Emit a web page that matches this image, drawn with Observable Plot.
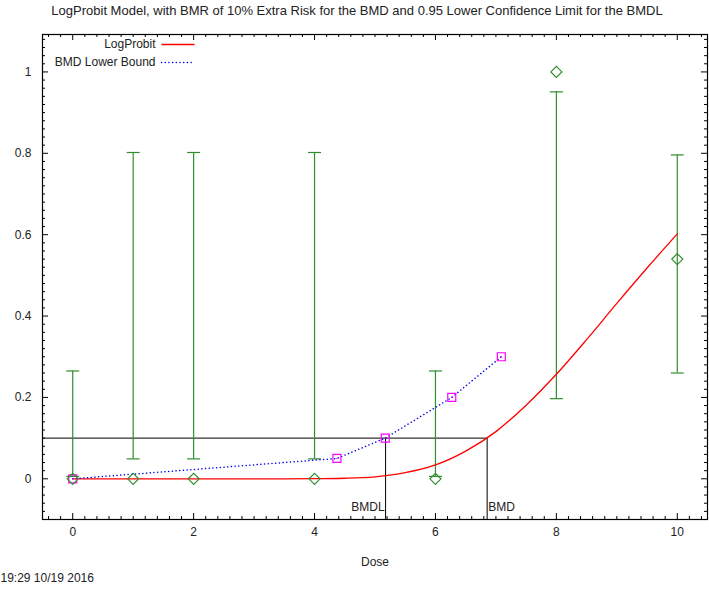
<!DOCTYPE html>
<html>
<head>
<meta charset="utf-8">
<script src="https://cdn.jsdelivr.net/npm/d3@7"></script>
<script src="https://cdn.jsdelivr.net/npm/@observablehq/plot@0.6"></script>
<style>
  html, body { margin: 0; padding: 0; background: #fff; }
  #chart svg { display: block; }
</style>
</head>
<body>
<div id="chart"></div>
<script>
// ---- Data ----
const doses = [0, 1, 2, 4, 6, 8, 10];
const observed = [0, 0, 0, 0, 0, 1, 0.54];
const lowerCI = [0.006, 0.049, 0.049, 0.049, 0.006, 0.197, 0.26];
const upperCI = [0.265, 0.802, 0.802, 0.802, 0.265, 0.951, 0.796];

const fitDose = [0, 1, 2, 3, 4, 4.5, 5, 5.5, 6, 6.5, 7, 7.5, 8, 8.5, 9, 9.5, 10];
const fitProb = [0, 0, 0, 0, 0.0003, 0.0014, 0.005, 0.015, 0.034, 0.068, 0.116, 0.181, 0.257, 0.342, 0.431, 0.518, 0.602];

const bmdlDose = [0, 4.37, 5.17, 6.27, 7.09];
const bmdlRisk = [0, 0.05, 0.1, 0.2, 0.3];

const bmr = 0.1;
const bmd = 6.855;
const bmdl = 5.175;

const xTicks = [0, 2, 4, 6, 8, 10];
const yTicks = [0, 0.2, 0.4, 0.6, 0.8, 1];
const xDomain = [-0.5, 10.5];
const yDomain = [-0.1, 1.092];

const titleText = "LogProbit Model, with BMR of 10% Extra Risk for the BMD and 0.95 Lower Confidence Limit for the BMDL";
const xLabel = "Dose";
const stamp = "19:29 10/19 2016";
const legendNames = ["LogProbit", "BMD Lower Bound"];

// ---- Build tables ----
const obs = doses.map((d, i) => ({dose: d, p: observed[i], lo: lowerCI[i], hi: upperCI[i]}));
const fit = fitDose.map((d, i) => ({dose: d, p: fitProb[i]}));
const lb = bmdlDose.map((d, i) => ({dose: d, p: bmdlRisk[i]}));

const xMinor = d3.range(-0.4, 10.5, 0.2).map(v => +v.toFixed(2)).filter(v => Math.abs(v / 2 - Math.round(v / 2)) > 1e-6);
const yMinor = d3.range(-0.08, 1.09, 0.02).map(v => +v.toFixed(2)).filter(v => Math.abs(v / 0.2 - Math.round(v / 0.2)) > 1e-6);

// ---- Layout ----
const W = 709, H = 590, mT = 34, mB = 71, mL = 42, mR = 2;
const FW = W - mL - mR, FH = H - mT - mB;

// ---- Custom symbols ----
const hbar = (w) => ({draw(ctx) { ctx.moveTo(-w, 0); ctx.lineTo(w, 0); }});
const diamond = (r) => ({draw(ctx) { ctx.moveTo(0, -r); ctx.lineTo(r, 0); ctx.lineTo(0, r); ctx.lineTo(-r, 0); ctx.closePath(); }});
const square = (r) => ({draw(ctx) { ctx.moveTo(-r, -r); ctx.lineTo(r, -r); ctx.lineTo(r, r); ctx.lineTo(-r, r); ctx.closePath(); }});

const GREEN = "#2f8f2f";
const RED = "#ff0000";
const BLUE = "#0000ee";
const MAGENTA = "#ff00ff";

const xTickMarks = (vals, len) => [
  Plot.tickX(vals, {x: d => d, insetTop: FH - len, stroke: "black", strokeWidth: 1}),
  Plot.tickX(vals, {x: d => d, insetBottom: FH - len, stroke: "black", strokeWidth: 1})
];
const yTickMarks = (vals, len) => [
  Plot.tickY(vals, {y: d => d, insetRight: FW - len, stroke: "black", strokeWidth: 1}),
  Plot.tickY(vals, {y: d => d, insetLeft: FW - len, stroke: "black", strokeWidth: 1})
];

const chart = Plot.plot({
  width: W,
  height: H,
  marginTop: mT,
  marginBottom: mB,
  marginLeft: mL,
  marginRight: mR,
  style: {fontFamily: "'Liberation Sans', Arial, sans-serif", fontSize: "12px", color: "#222", background: "#fff"},
  x: {domain: xDomain, axis: null},
  y: {domain: yDomain, axis: null},
  marks: [
    // axis labels (library axes, labels only)
    Plot.axisX({ticks: xTicks, tickSize: 0, tickPadding: 8, label: null, fontSize: 12, tickFormat: d => String(d)}),
    Plot.axisY({ticks: yTicks, tickSize: 0, tickPadding: 11, label: null, fontSize: 12, tickFormat: d => String(d)}),
    ...xTickMarks(xTicks, 6),
    ...xTickMarks(xMinor, 3),
    ...yTickMarks(yTicks, 6),
    ...yTickMarks(yMinor, 3),

    // BMR / BMD / BMDL guide lines
    Plot.ruleY([bmr], {x1: xDomain[0], x2: bmd, stroke: "black", strokeWidth: 1}),
    Plot.ruleX([bmdl, bmd], {y1: yDomain[0], y2: bmr, stroke: "black", strokeWidth: 1}),
    Plot.text(["BMDL"], {x: bmdl, y: yDomain[0], dy: -12, dx: -1, textAnchor: "end", fontSize: 12, fill: "#222"}),
    Plot.text(["BMD"], {x: bmd, y: yDomain[0], dy: -12, dx: 1, textAnchor: "start", fontSize: 12, fill: "#222"}),

    // error bars
    Plot.ruleX(obs, {x: "dose", y1: "lo", y2: "hi", stroke: GREEN, strokeWidth: 1.2}),
    Plot.dot(obs, {x: "dose", y: "lo", symbol: hbar(6.5), stroke: GREEN, fill: "none", strokeWidth: 1.2}),
    Plot.dot(obs, {x: "dose", y: "hi", symbol: hbar(6.5), stroke: GREEN, fill: "none", strokeWidth: 1.2}),

    // fitted curve
    Plot.line(fit, {x: "dose", y: "p", stroke: RED, strokeWidth: 1.3, curve: "monotone-x"}),

    // BMD lower bound
    Plot.line(lb, {x: "dose", y: "p", stroke: BLUE, strokeWidth: 1.5, strokeDasharray: "0.1,3.6", strokeLinecap: "round"}),
    Plot.dot(lb, {x: "dose", y: "p", symbol: square(4), stroke: MAGENTA, fill: "none", strokeWidth: 1.2}),
    Plot.dot(lb, {x: "dose", y: "p", r: 0.7, fill: MAGENTA, stroke: "none"}),

    // observed
    Plot.dot(obs, {x: "dose", y: "p", symbol: diamond(5.5), stroke: GREEN, fill: "none", strokeWidth: 1.2}),

    // legend
    Plot.text([legendNames[0]], {frameAnchor: "top-left", dx: 113, dy: 10, textAnchor: "end", lineAnchor: "middle", fontSize: 12, fill: "#222"}),
    Plot.text([legendNames[1]], {frameAnchor: "top-left", dx: 113, dy: 28, textAnchor: "end", lineAnchor: "middle", fontSize: 12, fill: "#222"}),
    Plot.dot([0], {frameAnchor: "top-left", dx: 135.5, dy: 10, symbol: hbar(16.5), stroke: RED, fill: "none", strokeWidth: 1.3}),
    Plot.dot([0], {frameAnchor: "top-left", dx: 135.5, dy: 28, symbol: hbar(16.5), stroke: BLUE, fill: "none", strokeWidth: 1.5, strokeDasharray: "0.1,3.6", strokeLinecap: "round"}),

    // titles
    Plot.text([titleText], {frameAnchor: "top", dy: -24, dx: -18, lineAnchor: "middle", fontSize: 13, fill: "#222"}),
    Plot.text([xLabel], {frameAnchor: "bottom", dy: 43, lineAnchor: "middle", fontSize: 12, fill: "#222"}),
    Plot.text([stamp], {frameAnchor: "bottom-left", dx: -42, dy: 59, textAnchor: "start", lineAnchor: "middle", fontSize: 12, fill: "#222"}),

    Plot.frame({stroke: "black", strokeWidth: 1.2})
  ]
});
document.getElementById("chart").appendChild(chart);
</script>
</body>
</html>
